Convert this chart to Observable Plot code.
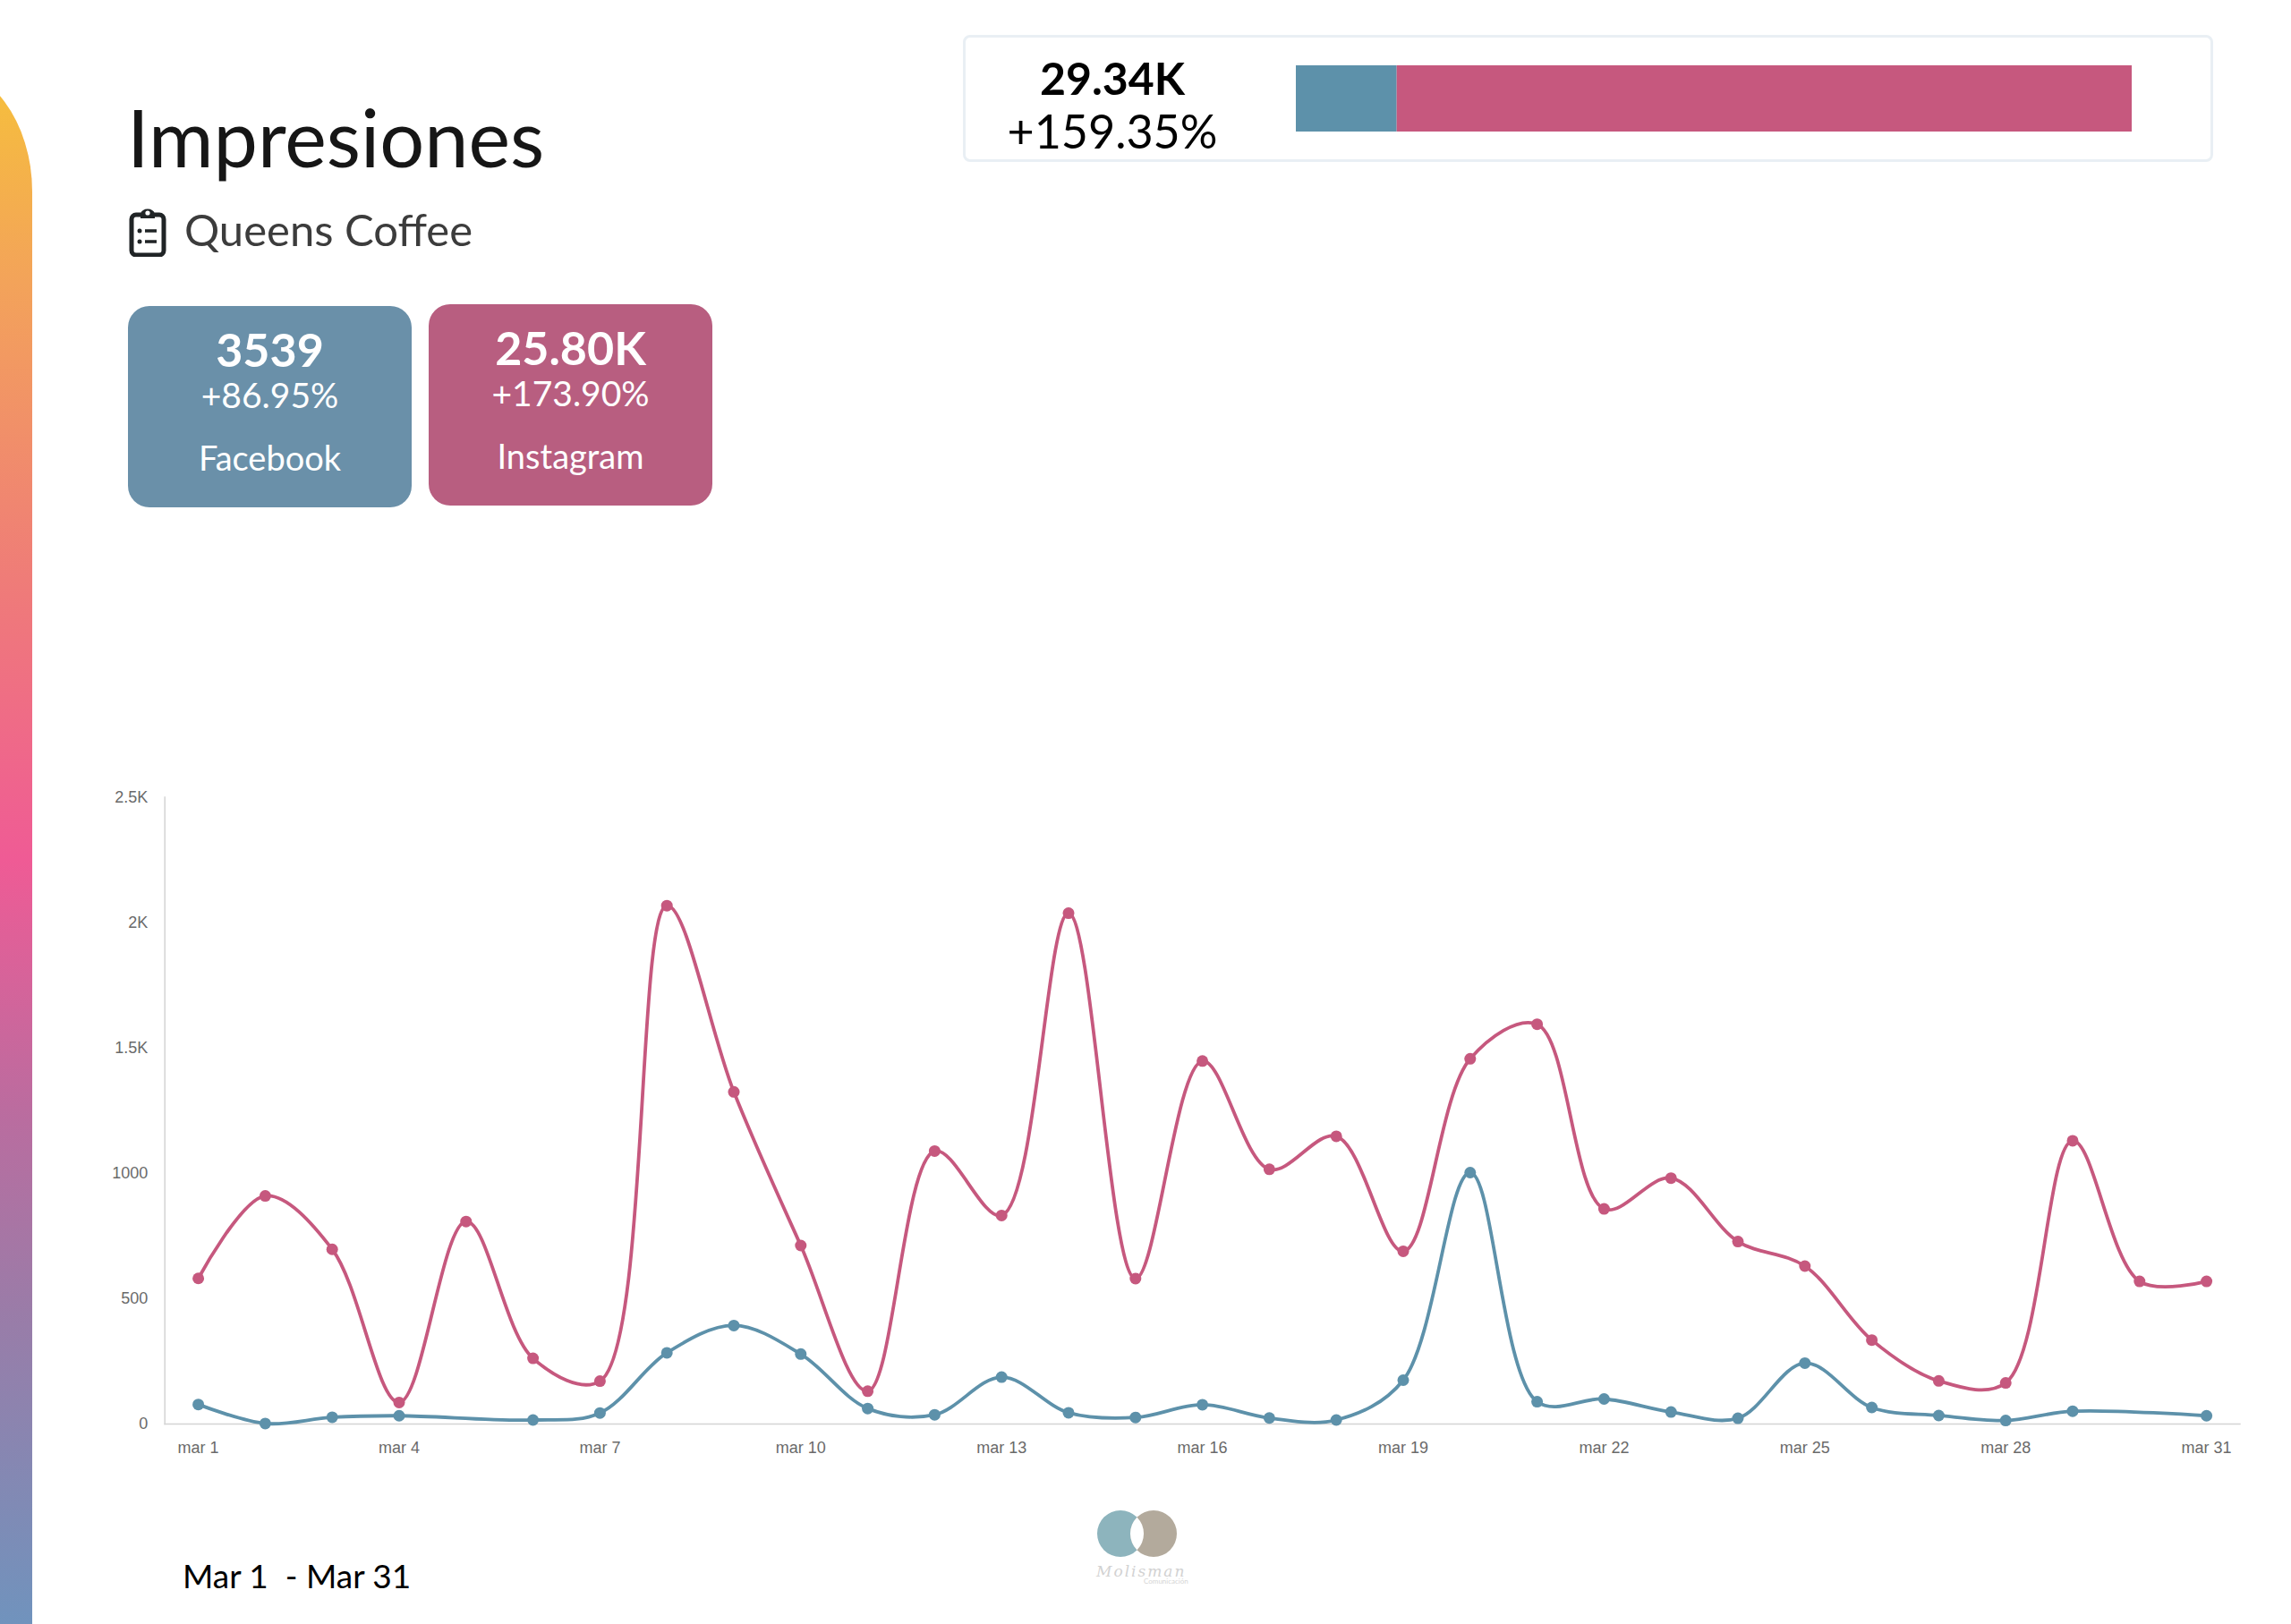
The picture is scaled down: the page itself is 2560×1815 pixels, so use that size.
<!DOCTYPE html>
<html lang="es">
<head>
<meta charset="utf-8">
<title>Impresiones</title>
<script src="https://cdn.jsdelivr.net/npm/d3@7"></script>
<script src="https://cdn.jsdelivr.net/npm/@observablehq/plot@0.6"></script>
<style>
html,body{margin:0;padding:0;background:#fff;}
body{position:relative;width:2560px;height:1815px;overflow:hidden;font-family:"Lato",sans-serif;}
.abs{position:absolute;white-space:nowrap;}
.ctr{transform:translateX(-50%);}
#gradient{position:absolute;left:-70px;top:72px;width:106px;height:1743px;border-top-right-radius:106px 142px;
 background:linear-gradient(to bottom,#f6c13a 0%,#f3a35a 14%,#ef7c78 33%,#ef5b95 51%,#bb6c9f 67%,#9a7ca8 80%,#7093bd 100%);}
.card{position:absolute;width:317px;height:225px;border-radius:24px;color:#fff;}
.card div{position:absolute;left:0;right:0;text-align:center;white-space:nowrap;}
.card .n{font-size:52px;font-weight:700;top:23px;line-height:50px;}
.card .p{font-size:39px;top:78px;line-height:42px;}
.card .l{font-size:38px;top:147px;line-height:44px;}
#panel{position:absolute;left:1076px;top:39px;width:1397px;height:142px;border:3px solid #e9eff4;border-radius:8px;box-sizing:border-box;background:#fff;}
#bar,#chart{position:absolute;}
#bar{left:1448px;top:73px;}
#chart{left:0;top:860.800px;}
#bar svg,#chart svg{display:block;background:transparent;}
</style>
</head>
<body>
<div id="gradient"></div>
<div class="abs" style="left:142px;top:103px;font-size:88.200px;line-height:100px;color:#161616">Impresiones</div>
<svg class="abs" style="left:144px;top:231px" width="42" height="56" viewBox="0 0 42 56">
 <path d="M8 9h7a6.500 6.500 0 0 1 12 0h7a5 5 0 0 1 5 5v35a5 5 0 0 1-5 5H8a5 5 0 0 1-5-5V14a5 5 0 0 1 5-5z" fill="none" stroke="#202426" stroke-width="5"/>
 <path d="M13 13V8h16v5z" fill="#202426"/><circle cx="21" cy="7" r="2.600" fill="#fff"/>
 <circle cx="12" cy="27" r="2.500" fill="#202426"/><circle cx="12" cy="39" r="2.500" fill="#202426"/>
 <path d="M18 27h13M18 39h13" stroke="#202426" stroke-width="3.500"/>
</svg>
<div class="abs" style="left:206px;top:226px;font-size:49px;line-height:60px;color:#3c3c3c">Queens Coffee</div>

<div class="card" style="left:143px;top:342px;background:#6a90a9">
 <div class="n">3539</div><div class="p">+86.95%</div><div class="l">Facebook</div>
</div>
<div class="card" style="left:479px;top:340px;background:#b85e80">
 <div class="n">25.80K</div><div class="p">+173.90%</div><div class="l">Instagram</div>
</div>

<div id="panel"></div>
<div class="abs ctr" style="left:1243px;top:58px;font-size:50px;line-height:58px;font-weight:700;color:#000">29.34K</div>
<div class="abs ctr" style="left:1243px;top:116px;font-size:52px;line-height:60px;color:#000">+159.35%</div>
<div id="bar"></div>
<div id="chart"></div>

<div class="abs" style="left:204px;top:1738px;font-size:37px;line-height:46px;color:#000">Mar 1&nbsp; - Mar 31</div>

<svg class="abs" style="left:1210px;top:1680px" width="130" height="100" viewBox="0 0 130 100">
 <circle cx="42" cy="34" r="26" fill="#8db4bd"/>
 <circle cx="79" cy="34" r="26" fill="#b3aa9c"/>
 <path d="M60.500 15.700a26 26 0 0 1 0 36.600a26 26 0 0 1 0-36.600z" fill="#fff"/>
 <text x="15" y="82" font-family="DejaVu Serif" font-style="italic" font-size="17" letter-spacing="2" fill="#d2d2d2">Molisman</text>
 <text x="68" y="90" font-family="Lato" font-size="8" fill="#d5d5d5">Comunicación</text>
</svg>

<script>
// Categories and axis labels
const days = ["mar 1","mar 2","mar 3","mar 4","mar 5","mar 6","mar 7","mar 8","mar 9","mar 10","mar 11","mar 12","mar 13","mar 14","mar 15","mar 16","mar 17","mar 18","mar 19","mar 20","mar 21","mar 22","mar 23","mar 24","mar 25","mar 26","mar 27","mar 28","mar 29","mar 30","mar 31"];
const xTicks = ["mar 1","mar 4","mar 7","mar 10","mar 13","mar 16","mar 19","mar 22","mar 25","mar 28","mar 31"];
const yTicks = [0,500,1000,1500,2000,2500];
const yTickLabels = ["0","500","1000","1.5K","2K","2.5K"];

// Series values (null: no value on that day)
const instagram = [581,910,697,86,808,262,171,2068,1325,712,131,1089,832,2038,580,1448,1016,1148,689,1457,1595,858,981,728,630,335,172,164,1130,569,569];
const facebook = [78,2,27,33,null,16,44,284,393,279,62,37,187,45,26,77,24,16,175,1003,89,100,48,23,243,66,34,14,51,null,33];

// Stacked bar
const barNames = ["Facebook","Instagram"];
const barValues = [3539,25800];
const barColors = ["#5d91aa","#c6587e"];

const BLUE = "#5d91aa", PINK = "#c6587e";
const rows = s => days.map((d,i)=>({day:d,v:s[i]})).filter(r=>r.v!=null);
const fb = rows(facebook), ig = rows(instagram);

const axisFont = {fontFamily:"Liberation Sans",fontSize:18,fill:"#6a6a6a"};
const chart = Plot.plot({
  width:2560,height:790,
  marginLeft:183.7,marginRight:57.5,marginTop:29.6,marginBottom:60,
  style:{background:"transparent",overflow:"visible"},
  x:{type:"point",domain:days,padding:0.5,round:false,label:null},
  y:{domain:[0,2500],label:null},
  marks:[
    Plot.frame({anchor:"left",stroke:"#d4d4d4",strokeWidth:1.5}),
    Plot.frame({anchor:"bottom",stroke:"#d4d4d4",strokeWidth:1.5}),
    Plot.axisX({ticks:xTicks,tickSize:0,tickPadding:20,label:null,...axisFont}),
    Plot.axisY({ticks:yTicks,tickSize:0,tickPadding:19,label:null,tickFormat:v=>yTickLabels[yTicks.indexOf(v)],...axisFont}),
    Plot.line(fb,{x:"day",y:"v",curve:"catmull-rom",stroke:BLUE,strokeWidth:3.8}),
    Plot.line(ig,{x:"day",y:"v",curve:"catmull-rom",stroke:PINK,strokeWidth:3.8}),
    Plot.dot(fb,{x:"day",y:"v",r:6.5,fill:BLUE}),
    Plot.dot(ig,{x:"day",y:"v",r:6.5,fill:PINK})
  ]
});
document.getElementById("chart").append(chart);

const barData = barNames.map((n,i)=>({name:n,value:barValues[i]}));
const bar = Plot.plot({
  width:934,height:74,margin:0,
  style:{background:"transparent"},
  x:{domain:[0,d3.sum(barValues)],axis:null},
  color:{domain:barNames,range:barColors},
  marks:[Plot.barX(barData,{x:"value",fill:"name"})]
});
document.getElementById("bar").append(bar);
</script>
</body>
</html>
